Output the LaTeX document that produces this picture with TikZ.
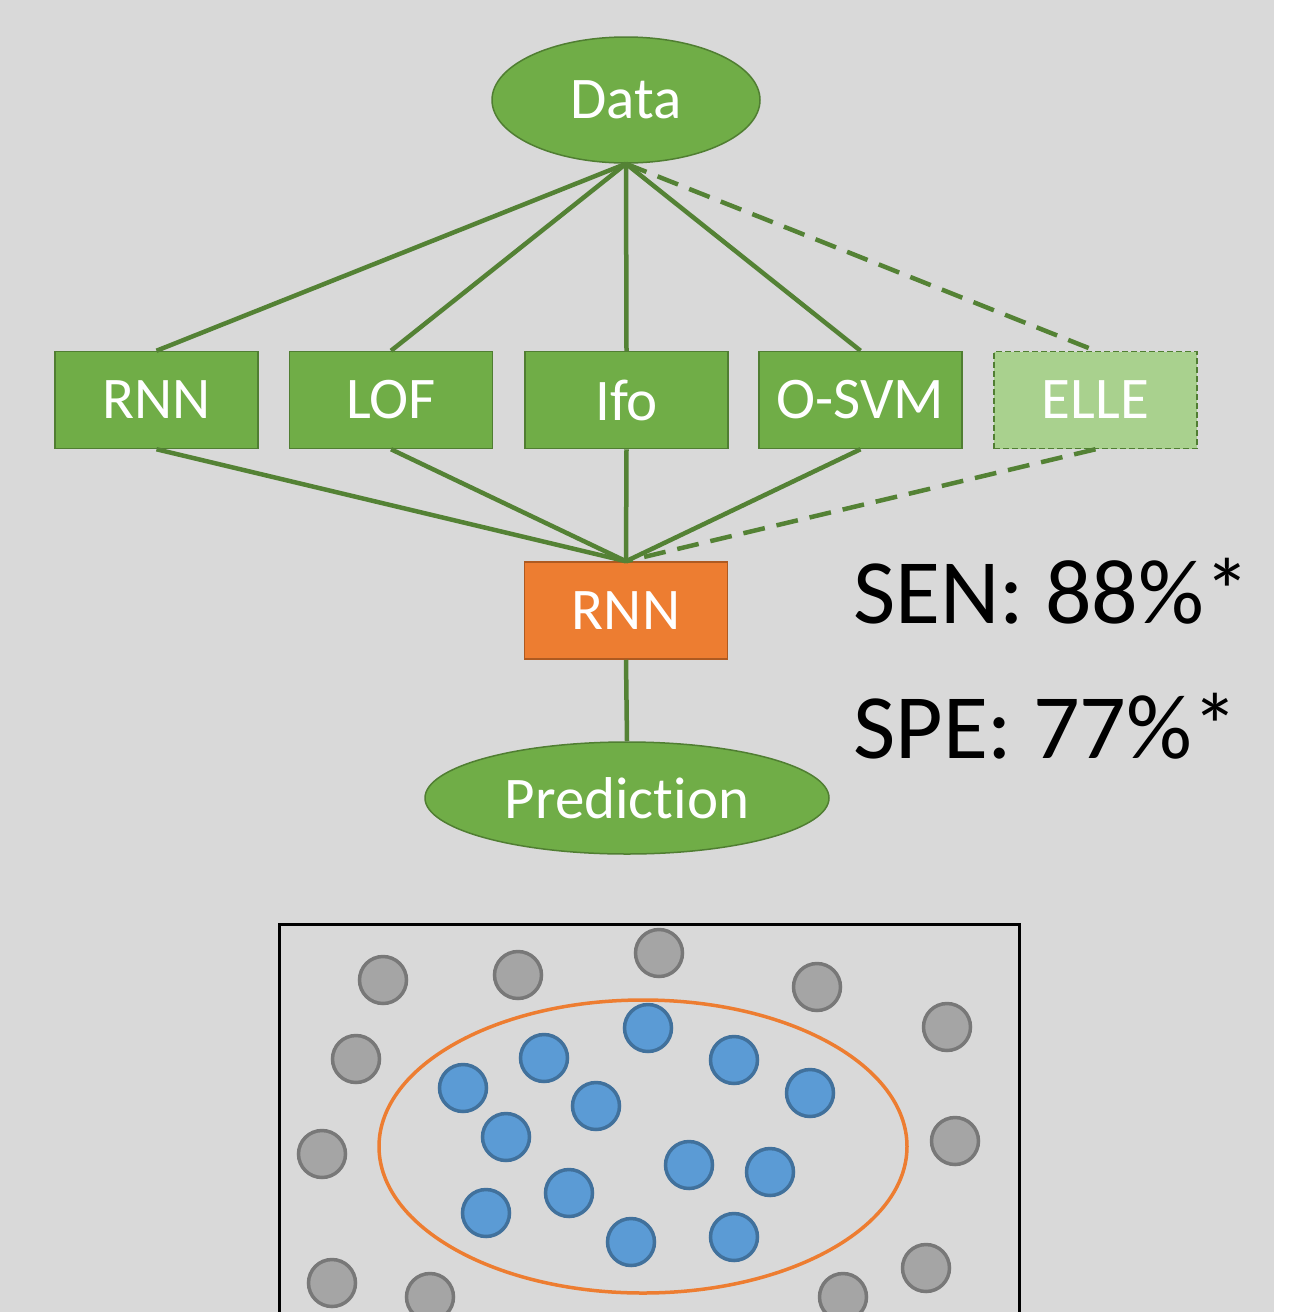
\documentclass[tikz,border=0pt]{standalone}
\usepackage{fontspec}
\setmainfont[Ligatures=NoCommon]{Carlito}
\usetikzlibrary{shapes.geometric}
\definecolor{bg}{HTML}{D9D9D9}
\definecolor{gfill}{HTML}{70AD47}
\definecolor{gline}{HTML}{548235}
\definecolor{gborder}{HTML}{507E32}
\definecolor{lgfill}{HTML}{A9D18E}
\definecolor{ofill}{HTML}{ED7D31}
\definecolor{oborder}{HTML}{AE5A21}
\definecolor{grfill}{HTML}{A5A5A5}
\definecolor{grborder}{HTML}{787878}
\definecolor{bfill}{HTML}{5B9BD5}
\definecolor{bborder}{HTML}{41719C}
\tikzset{
  gbox/.style={draw=gborder, line width=1.5pt, fill=gfill, text=white, minimum width=203pt, minimum height=97pt, inner sep=0pt, font=\fontsize{59}{61}\selectfont},
  gell/.style={ellipse, draw=gborder, line width=1.5pt, fill=gfill, text=white, inner sep=0pt, font=\fontsize{59}{61}\selectfont},
  conn/.style={draw=gline, line width=4.5pt},
  dconn/.style={conn, dash pattern=on 22pt off 12pt},
  stat/.style={anchor=base west, inner sep=0pt, font=\fontsize{92}{94}\selectfont, text=black},
  graydot/.style={draw=grborder, fill=grfill, line width=3.5pt},
  bluedot/.style={draw=bborder, fill=bfill, line width=3.5pt}
}
\begin{document}
\begin{tikzpicture}[x=1pt, y=-1pt]
\useasboundingbox (0,0) rectangle (1303,1312);
\fill[white] (0,0) rectangle (1303,1312);
\fill[bg] (0,0) rectangle (1274,1312);

\node[gell, minimum width=268pt, minimum height=126pt] (data) at (626,100) {Data};
\node[gbox] (b1) at (156.5,400) {RNN};
\node[gbox] (b2) at (391,400) {LOF};
\node[gbox] (b3) at (626.5,400) {Ifo};
\node[gbox] (b4) at (860.5,400) {O-SVM};
\node[gbox, fill=lgfill, dash pattern=on 6pt off 3pt] (b5) at (1095.5,400) {ELLE};
\node[gbox, fill=ofill, draw=oborder] (out) at (626,610.5) {RNN};
\node[gell, minimum width=404pt, minimum height=112pt] (pred) at (627,798) {Prediction};

\draw[conn] (data.south) -- (b1.north);
\draw[conn] (data.south) -- (b2.north);
\draw[conn] (data.south) -- (b3.north);
\draw[conn] (data.south) -- (b4.north);
\draw[dconn] (data.south) -- (b5.north);
\draw[conn] (b1.south) -- (out.north);
\draw[conn] (b2.south) -- (out.north);
\draw[conn] (b3.south) -- (out.north);
\draw[conn] (b4.south) -- (out.north);
\draw[dconn] (b5.south) -- (out.north);
\draw[conn] (out.south) -- (pred.north);

\node[stat] (sen) at (853,623) {SEN: 88\%*};
\node[stat] (spe) at (853,758) {SPE: 77\%*};

\begin{scope}
\clip (0,0) rectangle (1303,1312);
\draw[black, line width=3pt] (279,1340) -- (279,924) -- (1019,924) -- (1019,1340);
\draw[ofill, line width=3.5pt] (643,1146.5) ellipse [x radius=264, y radius=146.5];
\foreach \x/\y in {383/980, 518/975, 659/953, 817/987, 947/1027, 356/1059, 322/1154, 955/1141, 332/1283, 430/1297, 926/1268, 843/1297}
  \draw[graydot] (\x,\y) circle [radius=23.5];
\foreach \x/\y in {648/1028, 544/1058, 734/1060, 463/1088, 596/1106, 810/1093, 506/1137, 689/1165, 770/1172, 569/1193, 486/1213, 631/1242, 734/1237}
  \draw[bluedot] (\x,\y) circle [radius=23.5];
\end{scope}
\end{tikzpicture}
\end{document}
